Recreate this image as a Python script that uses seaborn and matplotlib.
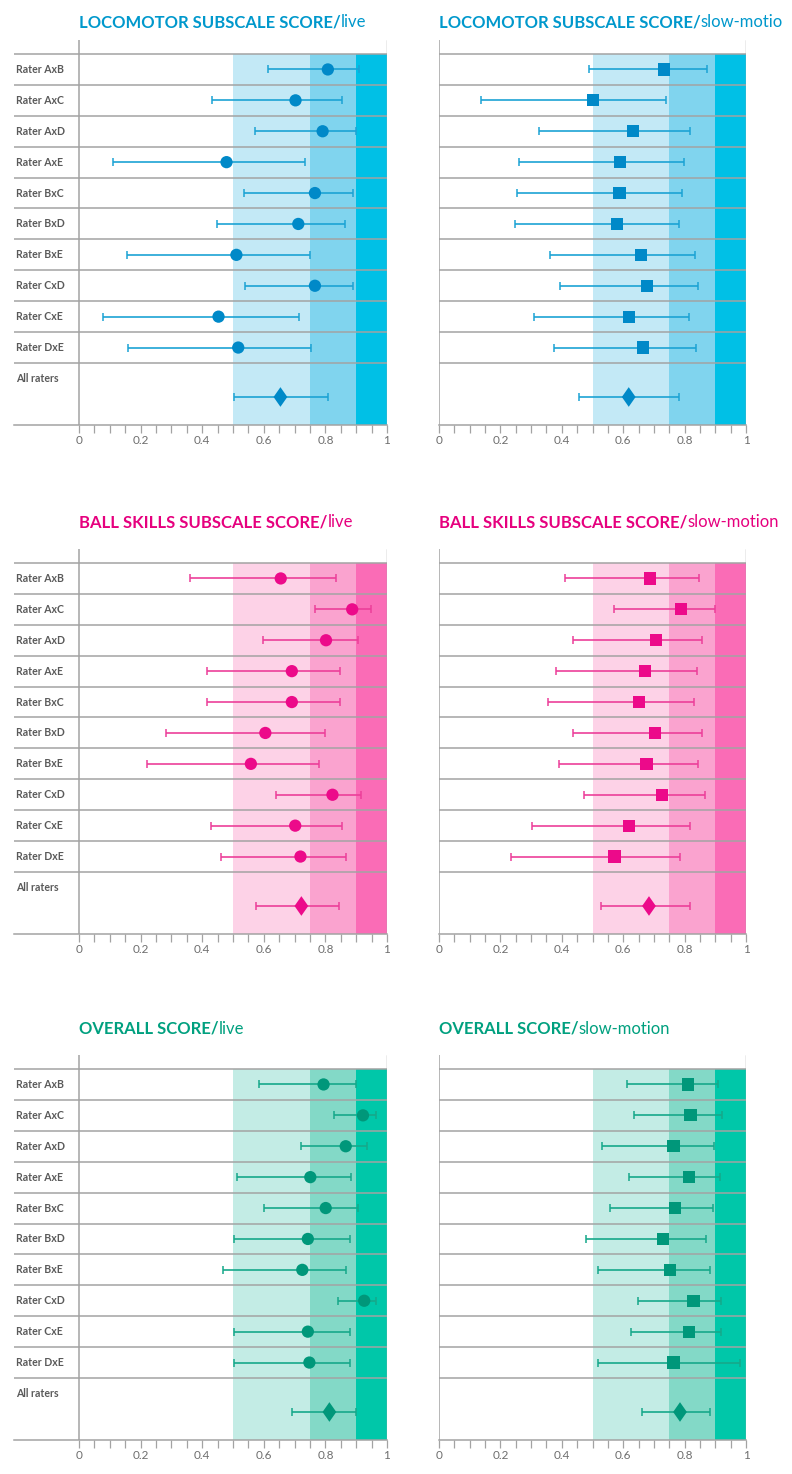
import numpy as np
import pandas as pd
import seaborn as sns
import matplotlib.pyplot as plt

# rows (last one is the pooled estimate)
raters = ['Rater AxB', 'Rater AxC', 'Rater AxD', 'Rater AxE', 'Rater BxC',
          'Rater BxD', 'Rater BxE', 'Rater CxD', 'Rater CxE', 'Rater DxE', 'All raters']

# locomotor subscale / live
loco_live_est = [0.808, 0.703, 0.791, 0.479, 0.766, 0.712, 0.511, 0.766, 0.453, 0.517, 0.654]
loco_live_lo = [0.613, 0.431, 0.573, 0.112, 0.536, 0.447, 0.155, 0.538, 0.077, 0.158, 0.502]
loco_live_hi = [0.910, 0.854, 0.899, 0.733, 0.889, 0.865, 0.751, 0.889, 0.715, 0.753, 0.807]

# locomotor subscale / slow-motion
loco_slow_est = [0.733, 0.501, 0.631, 0.590, 0.588, 0.579, 0.658, 0.677, 0.620, 0.665, 0.618]
loco_slow_lo = [0.490, 0.138, 0.325, 0.261, 0.255, 0.247, 0.363, 0.394, 0.309, 0.373, 0.456]
loco_slow_hi = [0.872, 0.741, 0.818, 0.797, 0.790, 0.782, 0.833, 0.844, 0.813, 0.836, 0.782]

# ball skills subscale / live
ball_live_est = [0.655, 0.887, 0.802, 0.691, 0.691, 0.605, 0.558, 0.823, 0.702, 0.719, 0.722]
ball_live_lo = [0.361, 0.765, 0.598, 0.415, 0.415, 0.283, 0.220, 0.640, 0.430, 0.460, 0.574]
ball_live_hi = [0.833, 0.949, 0.907, 0.849, 0.849, 0.800, 0.778, 0.917, 0.854, 0.868, 0.843]

# ball skills subscale / slow-motion
ball_slow_est = [0.687, 0.789, 0.706, 0.672, 0.651, 0.703, 0.676, 0.726, 0.619, 0.572, 0.684]
ball_slow_lo = [0.412, 0.570, 0.437, 0.382, 0.354, 0.437, 0.390, 0.471, 0.303, 0.236, 0.527]
ball_slow_hi = [0.848, 0.899, 0.858, 0.840, 0.830, 0.857, 0.843, 0.868, 0.817, 0.785, 0.819]

# overall score / live
over_live_est = [0.794, 0.922, 0.866, 0.751, 0.801, 0.743, 0.725, 0.926, 0.743, 0.748, 0.813]
over_live_lo = [0.586, 0.829, 0.720, 0.512, 0.601, 0.502, 0.467, 0.841, 0.502, 0.502, 0.692]
over_live_hi = [0.900, 0.964, 0.936, 0.884, 0.905, 0.879, 0.866, 0.964, 0.879, 0.879, 0.900]

# overall score / slow-motion
over_slow_est = [0.811, 0.819, 0.764, 0.815, 0.768, 0.729, 0.753, 0.829, 0.815, 0.764, 0.785]
over_slow_lo = [0.611, 0.636, 0.532, 0.620, 0.557, 0.479, 0.518, 0.647, 0.624, 0.519, 0.660]
over_slow_hi = [0.909, 0.921, 0.895, 0.914, 0.894, 0.870, 0.884, 0.920, 0.920, 0.980, 0.883]

band_edges = [0.5, 0.75, 0.9, 1.0]
tick_vals = [0, 0.2, 0.4, 0.6, 0.8, 1]
tick_labels = ['0', '0.2', '0.4', '0.6', '0.8', '1']

blue = dict(title='#0098CC', mark='#0089C8', line='#1CA3D4',
            bands=['#C3E9F6', '#80D4EE', '#00C0E6'])
pink = dict(title='#E6007E', mark='#EC0A8A', line='#EC3F9A',
            bands=['#FDD2E7', '#FAA3CF', '#FA6CB6'])
green = dict(title='#00A07F', mark='#00977A', line='#16A88A',
             bands=['#C3ECE5', '#83D9C7', '#00C7A9'])

GRAY = '#a3a3a3'
W, H = 792, 1474
ROW = 30.9
TOP_LINES = [54, 563, 1069]
TITLE_BASE = [27, 527, 1034]

sns.set_style('white')
plt.rcParams['font.family'] = ['Lato', 'DejaVu Sans']

fig = plt.figure(figsize=(W / 100, H / 100), dpi=100)


def draw_panel(ax, est, lo, hi, col, marker, show_labels):
    df = pd.DataFrame({'rater': raters, 'est': est, 'lo': lo, 'hi': hi})
    df['y'] = np.arange(len(df)) + 0.5
    df.loc[df.index[-1], 'y'] = len(df) + 0.1  # pooled row is double height
    n_lines = len(df)

    for (a, b), c in zip(zip(band_edges[:-1], band_edges[1:]), col['bands']):
        ax.fill_betweenx([0, n_lines + 1], a, b, color=c, lw=0, zorder=0)
    for k in range(n_lines):
        ax.axhline(k, color=GRAY, lw=1.1, zorder=1)
    ax.axvline(0, color=GRAY, lw=1.1, zorder=1)
    ax.axvline(1, color=GRAY, lw=1.0, zorder=1)

    ax.errorbar(df['est'], df['y'], xerr=[df['est'] - df['lo'], df['hi'] - df['est']],
                fmt='none', ecolor=col['line'], elinewidth=1.2, capsize=2.6,
                capthick=1.1, zorder=3)
    pairs = df.iloc[:-1]
    pooled = df.iloc[-1:]
    sns.scatterplot(data=pairs, x='est', y='y', marker=marker, s=78, color=col['mark'],
                    edgecolor='none', linewidth=0, ax=ax, zorder=4, legend=False)
    diamond = [(0, 1), (0.7, 0), (0, -1), (-0.7, 0), (0, 1)]
    sns.scatterplot(data=pooled, x='est', y='y', marker=diamond, s=200, color=col['mark'],
                    edgecolor='none', linewidth=0, ax=ax, zorder=4, legend=False)

    if show_labels:
        for _, r in df.iterrows():
            y = r['y'] if r['rater'] != 'All raters' else n_lines - 0.5
            ax.text(0.006, y, r['rater'], transform=ax.get_yaxis_transform(),
                    ha='left', va='center', fontsize=7.6, fontweight='bold', color='#5a5a5a')

    ax.set_ylim(n_lines + 1, -14 / ROW)
    ax.set_xticks(tick_vals)
    ax.set_xticklabels(tick_labels)
    ax.set_xticks(np.arange(0, 1.001, 0.05), minor=True)
    ax.set_yticks([])
    ax.tick_params(axis='x', which='both', bottom=True, length=5.5, width=0.9,
                   color=GRAY, direction='out', labelsize=8.5, labelcolor='#6e6e6e', pad=2)
    ax.set_xlabel('')
    ax.set_ylabel('')
    for s in ['top', 'left', 'right']:
        ax.spines[s].set_visible(False)
    ax.spines['bottom'].set_color(GRAY)
    ax.spines['bottom'].set_linewidth(1.1)


panels = [
    ('LOCOMOTOR SUBSCALE SCORE/', 'live', loco_live_est, loco_live_lo, loco_live_hi, blue, 'o'),
    ('LOCOMOTOR SUBSCALE SCORE/', 'slow-motio', loco_slow_est, loco_slow_lo, loco_slow_hi, blue, 's'),
    ('BALL SKILLS SUBSCALE SCORE/', 'live', ball_live_est, ball_live_lo, ball_live_hi, pink, 'o'),
    ('BALL SKILLS SUBSCALE SCORE/', 'slow-motion', ball_slow_est, ball_slow_lo, ball_slow_hi, pink, 's'),
    ('OVERALL SCORE/', 'live', over_live_est, over_live_lo, over_live_hi, green, 'o'),
    ('OVERALL SCORE/', 'slow-motion', over_slow_est, over_slow_lo, over_slow_hi, green, 's'),
]

for i, (bold, tail, est, lo, hi, col, marker) in enumerate(panels):
    row, side = divmod(i, 2)
    top_line = TOP_LINES[row]
    ax_top = top_line - 14
    ax_bot = top_line + 12 * ROW
    if side == 0:
        x0, x1, zero_px = 14, 387, 79
        xlim = (-(zero_px - x0) / (x1 - zero_px), 1)
    else:
        x0, x1, zero_px = 439, 746, 439
        xlim = (0, 1)
    ax = fig.add_axes([x0 / W, 1 - ax_bot / H, (x1 - x0) / W, (ax_bot - ax_top) / H])
    draw_panel(ax, est, lo, hi, col, marker, side == 0)
    ax.set_xlim(*xlim)

    t = fig.text(zero_px / W, 1 - TITLE_BASE[row] / H, bold, ha='left', va='baseline',
                 fontsize=12, fontweight='bold', color=col['title'])
    fig.add_artist(plt.Annotation(tail, xy=(1, 0), xycoords=t, ha='left', va='bottom',
                                  fontsize=12, color=col['title']))

fig.savefig('out.png', dpi=100)
